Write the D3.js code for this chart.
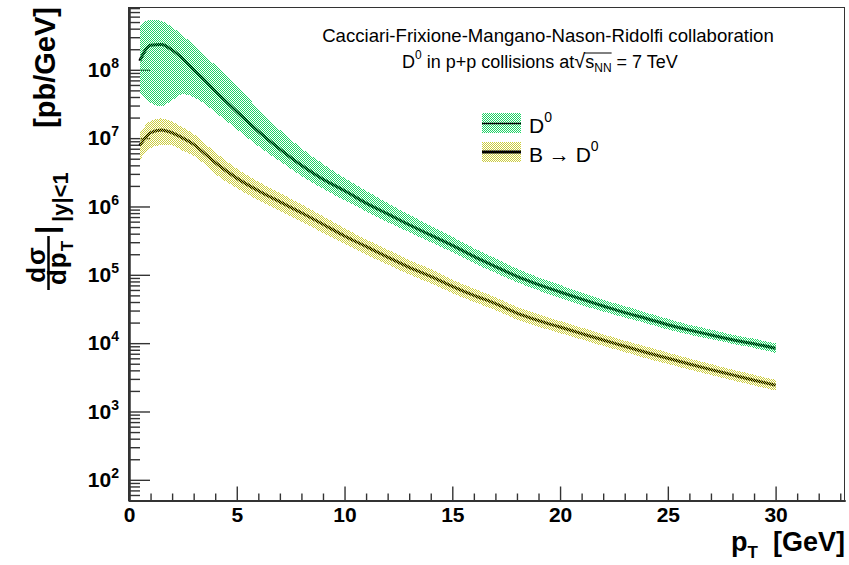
<!DOCTYPE html>
<html><head><meta charset="utf-8">
<script src="https://cdn.jsdelivr.net/npm/d3@7"></script>
<style>
body{margin:0;background:#fff}
svg{display:block}
text{font-family:"Liberation Sans",Arial,Helvetica,sans-serif}
</style>
</head><body><svg id="c" width="849" height="565"></svg>
<script>
// ---------------- data ----------------
const pT = [0.5,1,1.5,2,2.5,3,3.5,4,5,6,7,8,9,10,11,12,13,14,15,16,17,18,19,20,21,22,23,24,25,26,27,28,29,30];
const d0Central = [1.35e8,2.29e8,2.34e8,1.95e8,1.45e8,1.0e8,7.1e7,4.9e7,2.45e7,1.26e7,6.9e6,4.0e6,2.5e6,1.7e6,1.12e6,7.8e5,5.4e5,3.8e5,2.7e5,1.86e5,1.32e5,9.5e4,7.2e4,5.6e4,4.4e4,3.5e4,2.8e4,2.3e4,1.86e4,1.55e4,1.32e4,1.12e4,9.8e3,8.4e3];
const d0Upper   = [4.5e8,5.4e8,5.2e8,4.2e8,3.2e8,2.3e8,1.66e8,1.17e8,5.8e7,2.7e7,1.32e7,7.1e6,4.2e6,2.6e6,1.7e6,1.12e6,7.6e5,5.2e5,3.6e5,2.45e5,1.74e5,1.23e5,9.2e4,7.1e4,5.5e4,4.3e4,3.5e4,2.8e4,2.27e4,1.86e4,1.58e4,1.33e4,1.16e4,9.9e3];
const d0Lower   = [4.6e7,3.3e7,2.9e7,3.6e7,4.4e7,4.0e7,3.2e7,2.4e7,1.35e7,7.6e6,4.6e6,2.8e6,1.82e6,1.23e6,8.5e5,5.9e5,4.2e5,3.0e5,2.14e5,1.48e5,1.07e5,7.8e4,5.9e4,4.6e4,3.6e4,2.9e4,2.37e4,1.95e4,1.58e4,1.33e4,1.15e4,9.8e3,8.5e3,7.2e3];
const bCentral  = [7.8e6,1.2e7,1.32e7,1.2e7,1.0e7,8.1e6,6.0e6,4.4e6,2.6e6,1.7e6,1.17e6,8.1e5,5.5e5,3.7e5,2.6e5,1.82e5,1.29e5,9.5e4,6.8e4,5.0e4,3.8e4,2.75e4,2.14e4,1.72e4,1.38e4,1.11e4,9.0e3,7.3e3,6.0e3,4.95e3,4.1e3,3.43e3,2.87e3,2.42e3];
const bUpper    = [1.2e7,1.78e7,1.95e7,1.74e7,1.43e7,1.15e7,8.5e6,6.2e6,3.6e6,2.3e6,1.57e6,1.08e6,7.2e5,4.8e5,3.3e5,2.34e5,1.64e5,1.22e5,8.5e4,6.3e4,4.7e4,3.4e4,2.63e4,2.11e4,1.69e4,1.35e4,1.09e4,8.9e3,7.3e3,5.97e3,4.94e3,4.11e3,3.44e3,2.89e3];
const bLower    = [4.7e6,7.2e6,7.9e6,7.8e6,6.5e6,5.5e6,4.2e6,3.0e6,1.86e6,1.23e6,8.6e5,6.0e5,4.1e5,2.85e5,1.97e5,1.41e5,1.01e5,7.5e4,5.4e4,4.0e4,3.05e4,2.21e4,1.74e4,1.4e4,1.13e4,9.1e3,7.4e3,6.0e3,4.95e3,4.11e3,3.43e3,2.86e3,2.4e3,2.02e3];
const xMajorTicks = [0,5,10,15,20,25,30];
const yMajorTicks = [1e2,1e3,1e4,1e5,1e6,1e7,1e8];
const seriesNames = ["D", "B \u2192 D"];

// ---------------- chart ----------------
const svg = d3.select("#c");
const x = d3.scaleLinear().domain([0, 33.22]).range([129, 845]);
const y = d3.scaleLog().domain([49, 8.3e8]).range([501, 7]);

const defs = svg.append("defs");
function pattern(id, color){
  const p = defs.append("pattern").attr("id", id).attr("patternUnits","userSpaceOnUse")
    .attr("width",2).attr("height",2);
  p.append("rect").attr("x",0).attr("y",0).attr("width",1).attr("height",1).attr("fill",color);
  p.append("rect").attr("x",1).attr("y",1).attr("width",1).attr("height",1).attr("fill",color);
}
const greenCol = "#1ed264", yellowCol = "#cccc3c";
pattern("pg", greenCol);
pattern("py", yellowCol);

// frame
svg.append("rect").attr("x",128.5).attr("y",7.5).attr("width",716).attr("height",493)
  .attr("fill","none").attr("stroke","#333").attr("stroke-width",1);

// minor y ticks
const yMinor = [];
for (let k = 1; k <= 8; k++) for (let m = 2; m <= 9; m++) { const v = m*Math.pow(10,k); if (v >= 49 && v <= 8.3e8) yMinor.push(v); }
svg.append("g").attr("transform","translate(129,0)")
  .call(d3.axisLeft(y).tickValues(yMinor).tickSizeInner(-11).tickSizeOuter(0).tickFormat(""));
const gy = svg.append("g").attr("transform","translate(129,0)")
  .call(d3.axisLeft(y).tickValues(yMajorTicks).tickSizeInner(-21).tickSizeOuter(0).tickPadding(10));
gy.selectAll(".tick text").each(function(d){
  const t = d3.select(this); const k = Math.round(Math.log10(d));
  t.text("10"); t.append("tspan").attr("dy","-9").attr("font-size","14px").text(k);
});
const xMinor = d3.range(1, 34).filter(v => v % 5 !== 0);
svg.append("g").attr("transform","translate(0,500.5)")
  .call(d3.axisBottom(x).tickValues(xMinor).tickSizeInner(-7).tickSizeOuter(0).tickFormat(""));
svg.append("g").attr("transform","translate(0,500.5)")
  .call(d3.axisBottom(x).tickValues(xMajorTicks).tickSizeInner(-14).tickSizeOuter(0).tickPadding(7).tickFormat(d3.format("d")));
svg.selectAll(".domain").attr("stroke","#333").attr("stroke-width",2);
svg.selectAll(".tick line").attr("stroke","#333").attr("stroke-width",1.4);
svg.selectAll(".tick text").attr("font-size","21px").attr("font-weight","bold").attr("fill","#000")
  .attr("font-family",'"Liberation Sans",Arial,sans-serif');

// series
function mk(c,u,l){ return pT.map((p,i)=>({p, c:c[i], u:u[i], l:l[i]})); }
const D0 = mk(d0Central, d0Upper, d0Lower);
const BD = mk(bCentral, bUpper, bLower);
const line = d3.line().x(d=>x(d.p)).y(d=>y(d.c)).curve(d3.curveMonotoneX);
const area = d3.area().x(d=>x(d.p)).y0(d=>y(d.l)).y1(d=>y(d.u)).curve(d3.curveMonotoneX);

svg.append("path").attr("d", line(D0)).attr("fill","none").attr("stroke","#000").attr("stroke-width",3);
svg.append("path").attr("d", line(BD)).attr("fill","none").attr("stroke","#000").attr("stroke-width",3);
svg.append("path").attr("d", area(D0)).attr("fill","url(#pg)").attr("shape-rendering","crispEdges");
svg.append("path").attr("d", area(BD)).attr("fill","url(#py)").attr("shape-rendering","crispEdges");

// legend
const lg = svg.append("g");
lg.append("rect").attr("x",482).attr("y",113).attr("width",39).attr("height",20).attr("fill","url(#pg)");
lg.append("line").attr("x1",482).attr("x2",521).attr("y1",123.5).attr("y2",123.5).attr("stroke","#000").attr("stroke-width",1.5);
lg.append("rect").attr("x",482).attr("y",142).attr("width",39).attr("height",20).attr("fill","url(#py)");
lg.append("line").attr("x1",482).attr("x2",521).attr("y1",152).attr("y2",152).attr("stroke","#000").attr("stroke-width",3);
[[133,seriesNames[0]],[162,seriesNames[1]]].forEach(([yy,s])=>{
  const t = lg.append("text").attr("x",529).attr("y",yy).attr("font-size","21px").text(s);
  t.append("tspan").attr("dy","-11").attr("font-size","14px").text("0");
});

// header text
svg.append("text").attr("x",548).attr("y",41.5).attr("text-anchor","middle").attr("font-size","18.6px")
  .text("Cacciari-Frixione-Mangano-Nason-Ridolfi collaboration");
const t2 = svg.append("text").attr("x",402).attr("y",68).attr("font-size","18px");
t2.append("tspan").text("D");
t2.append("tspan").attr("dy",-9).attr("font-size","12px").text("0");
t2.append("tspan").attr("dy",9).text(" in p+p collisions at");
t2.append("tspan").attr("font-size","20px").text("\u221A");
t2.append("tspan").text("s");
t2.append("tspan").attr("dy",4).attr("font-size","12px").text("NN");
t2.append("tspan").attr("dy",-4).text(" = 7 TeV");
{
  const node = t2.node();
  const txt = node.textContent;
  const iR = txt.indexOf("\u221A");
  const iE = txt.indexOf("NN")+1;
  const r = node.getExtentOfChar(iR), e = node.getExtentOfChar(iE);
  svg.append("line").attr("x1", r.x + r.width - 1).attr("x2", e.x + e.width)
    .attr("y1", r.y + 3).attr("y2", r.y + 3).attr("stroke","#000").attr("stroke-width",1);
}

// x title
const xt = svg.append("text").attr("x",845).attr("y",551).attr("text-anchor","end")
  .attr("font-size","27px").attr("font-weight","bold");
xt.append("tspan").text("p");
xt.append("tspan").attr("dy",7).attr("font-size","17px").text("T");
xt.append("tspan").attr("dy",-7).text("\u00A0\u00A0[GeV]");

// y title (rotated)
const yt = svg.append("g").attr("transform","rotate(-90)");
yt.append("text").attr("x",-264).attr("y",45).attr("text-anchor","middle").attr("font-size","26px").attr("font-weight","bold").attr("letter-spacing","2px").text("d\u03C3");
yt.append("line").attr("x1",-290).attr("x2",-236).attr("y1",48.5).attr("y2",48.5).attr("stroke","#000").attr("stroke-width",2.5);
const den = yt.append("text").attr("x",-263).attr("y",66).attr("text-anchor","middle").attr("font-size","26px").attr("font-weight","bold");
den.append("tspan").attr("letter-spacing","1px").text("dp");
den.append("tspan").attr("dy",7).attr("font-size","17px").text("T");
yt.append("text").attr("x",-234).attr("y",57).attr("font-size","30px").attr("font-weight","bold").text("|");
yt.append("text").attr("x",-222).attr("y",68).attr("font-size","22px").attr("font-weight","bold").text("|y|<1");
yt.append("text").attr("x",-7).attr("y",55).attr("text-anchor","end").attr("font-size","29px").attr("font-weight","bold").text("[pb/GeV]");
</script>
</body></html>
